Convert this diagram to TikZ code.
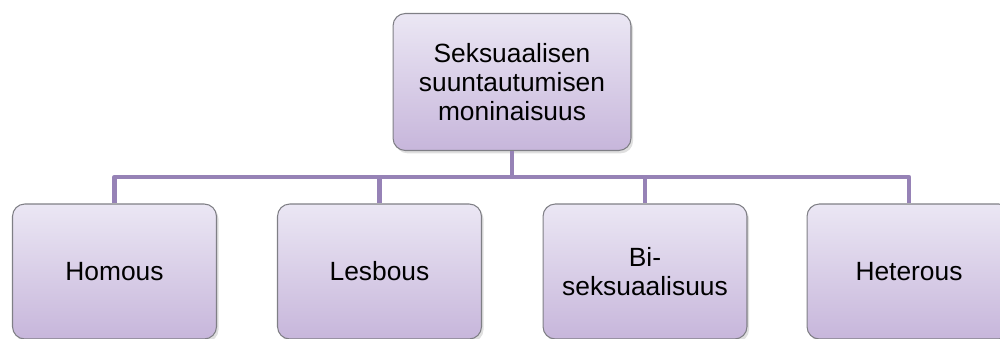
\documentclass[tikz,border=0pt]{standalone}
\usepackage{fontspec}
\setmainfont{Liberation Sans}
\usetikzlibrary{positioning, shadows}
\definecolor{OrgLine}{HTML}{9682B6}
\definecolor{BoxTop}{HTML}{EBE7F4}
\definecolor{BoxBottom}{HTML}{C7B6DB}
\definecolor{BoxBorder}{HTML}{7F7F85}

\begin{document}
\begin{tikzpicture}[x=0.02cm, y=-0.02cm,
    orgbox/.style={draw=BoxBorder, line width=0.6pt, rounded corners=7pt,
        top color=BoxTop, bottom color=BoxBottom, align=center,
        font=\fontsize{15}{16.5}\selectfont, inner sep=2pt,
        drop shadow={shadow xshift=1.2pt, shadow yshift=-1.6pt, opacity=0.25}},
    rootbox/.style={orgbox, minimum width=4.76cm, minimum height=2.74cm},
    leafbox/.style={orgbox, minimum width=4.08cm, minimum height=2.7cm},
    orgline/.style={draw=OrgLine, line width=2.6pt}]
    % page frame
    \useasboundingbox (0,0) rectangle (1000,338);
    \clip (0,0) rectangle (1000,338);

    % 1. Root
    \node[rootbox] (root) at (512,82) {Seksuaalisen\\suuntautumisen\\moninaisuus};

    % 2. Branches
    \node[leafbox] (homo)   at (114.5,271.5) {Homous};
    \node[leafbox] (lesbo)  at (379.5,271.5) {Lesbous};
    \node[leafbox] (bi)     at (645,271.5)   {Bi-\\seksuaalisuus};
    \node[leafbox] (hetero) at (909,271.5)   {Heterous};

    % 3. Connectors
    \coordinate (bus) at (512,177);
    \draw[orgline] (root.south) -- (bus);
    \foreach \leaf in {homo, lesbo, bi, hetero}
        \draw[orgline, line join=round] (bus) -| (\leaf.north);
\end{tikzpicture}
\end{document}
